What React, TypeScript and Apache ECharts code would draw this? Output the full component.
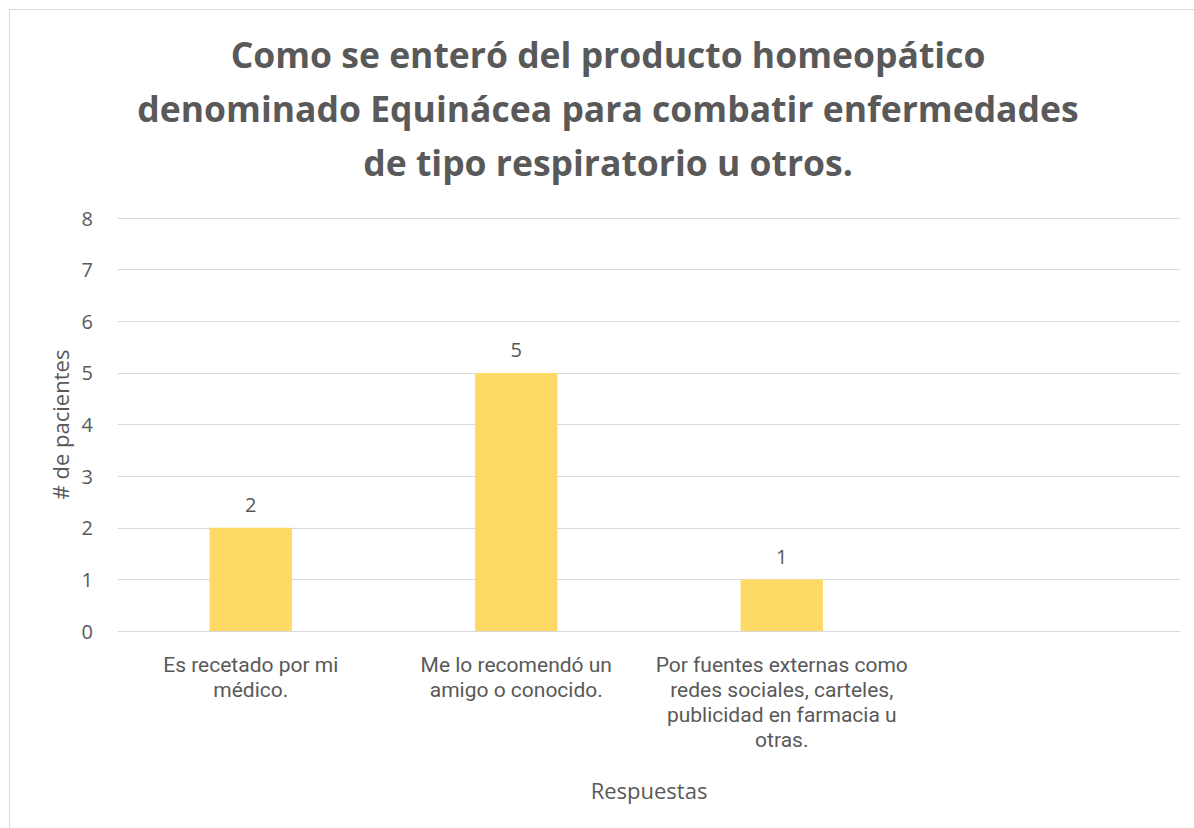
import React, { useEffect, useRef } from "react";
import * as echarts from "echarts";

const titleText =
  "Como se enteró del producto homeopático\ndenominado Equinácea para combatir enfermedades\nde tipo respiratorio u otros.";
const categories = [
  "Es recetado por mi\nmédico.",
  "Me lo recomendó un\namigo o conocido.",
  "Por fuentes externas como\nredes sociales, carteles,\npublicidad en farmacia u\notras.",
  "",
];
const values: (number | null)[] = [2, 5, 1, null];
const yTicks = [0, 1, 2, 3, 4, 5, 6, 7, 8];
const xAxisName = "Respuestas";
const yAxisName = "# de pacientes";

const FONT = "'Open Sans', 'Noto Sans', sans-serif";
const LABEL_FONT = "Roboto, 'Liberation Sans', sans-serif";
const GRAY = "#595959";

export default function App() {
  const ref = useRef<HTMLDivElement>(null);
  useEffect(() => {
    if (!ref.current) return;
    const chart = echarts.init(ref.current, null, { renderer: "svg" });
    chart.setOption({
      animation: false,
      backgroundColor: "#ffffff",
      textStyle: { fontFamily: FONT },
      title: {
        text: titleText,
        left: 603,
        textAlign: "center",
        top: 22,
        textStyle: {
          fontFamily: FONT,
          fontSize: 35.5,
          fontWeight: "bold",
          color: GRAY,
          lineHeight: 54,
        },
      },
      graphic: [
        {
          type: "rect",
          shape: { x: 9.5, y: 9.5, width: 1200, height: 830 },
          style: { fill: "none", stroke: "#d9d9d9", lineWidth: 1 },
          silent: true,
        },
      ],
      grid: { left: 118, right: 14, top: 218, bottom: 197, containLabel: false },
      xAxis: {
        type: "category",
        data: categories,
        axisTick: { show: false },
        axisLine: { lineStyle: { color: "#d9d9d9", width: 1 } },
        axisLabel: {
          color: GRAY,
          fontSize: 21,
          fontFamily: LABEL_FONT,
          lineHeight: 25,
          margin: 21,
          interval: 0,
          align: "center",
        },
        name: xAxisName,
        nameLocation: "middle",
        nameGap: 148,
        nameTextStyle: { color: GRAY, fontSize: 22, fontFamily: FONT },
      },
      yAxis: {
        type: "value",
        min: yTicks[0],
        max: yTicks[yTicks.length - 1],
        interval: 1,
        axisLine: { show: false },
        axisTick: { show: false },
        splitLine: { lineStyle: { color: "#d9d9d9", width: 1 } },
        axisLabel: { color: GRAY, fontSize: 20, fontFamily: FONT, margin: 25 },
        name: yAxisName,
        nameLocation: "middle",
        nameGap: 39,
        nameRotate: 90,
        nameTextStyle: { color: GRAY, fontSize: 22, fontFamily: FONT },
      },
      series: [
        {
          type: "bar",
          data: values,
          barWidth: "31%",
          itemStyle: { color: "#FFD966" },
          label: {
            show: true,
            position: "top",
            distance: 13,
            color: GRAY,
            fontSize: 20,
            fontFamily: FONT,
          },
        },
      ],
    });
    return () => chart.dispose();
  }, []);
  return (
    <div
      ref={ref}
      style={{ position: "absolute", left: 0, top: 0, width: 1194, height: 828 }}
    />
  );
}
